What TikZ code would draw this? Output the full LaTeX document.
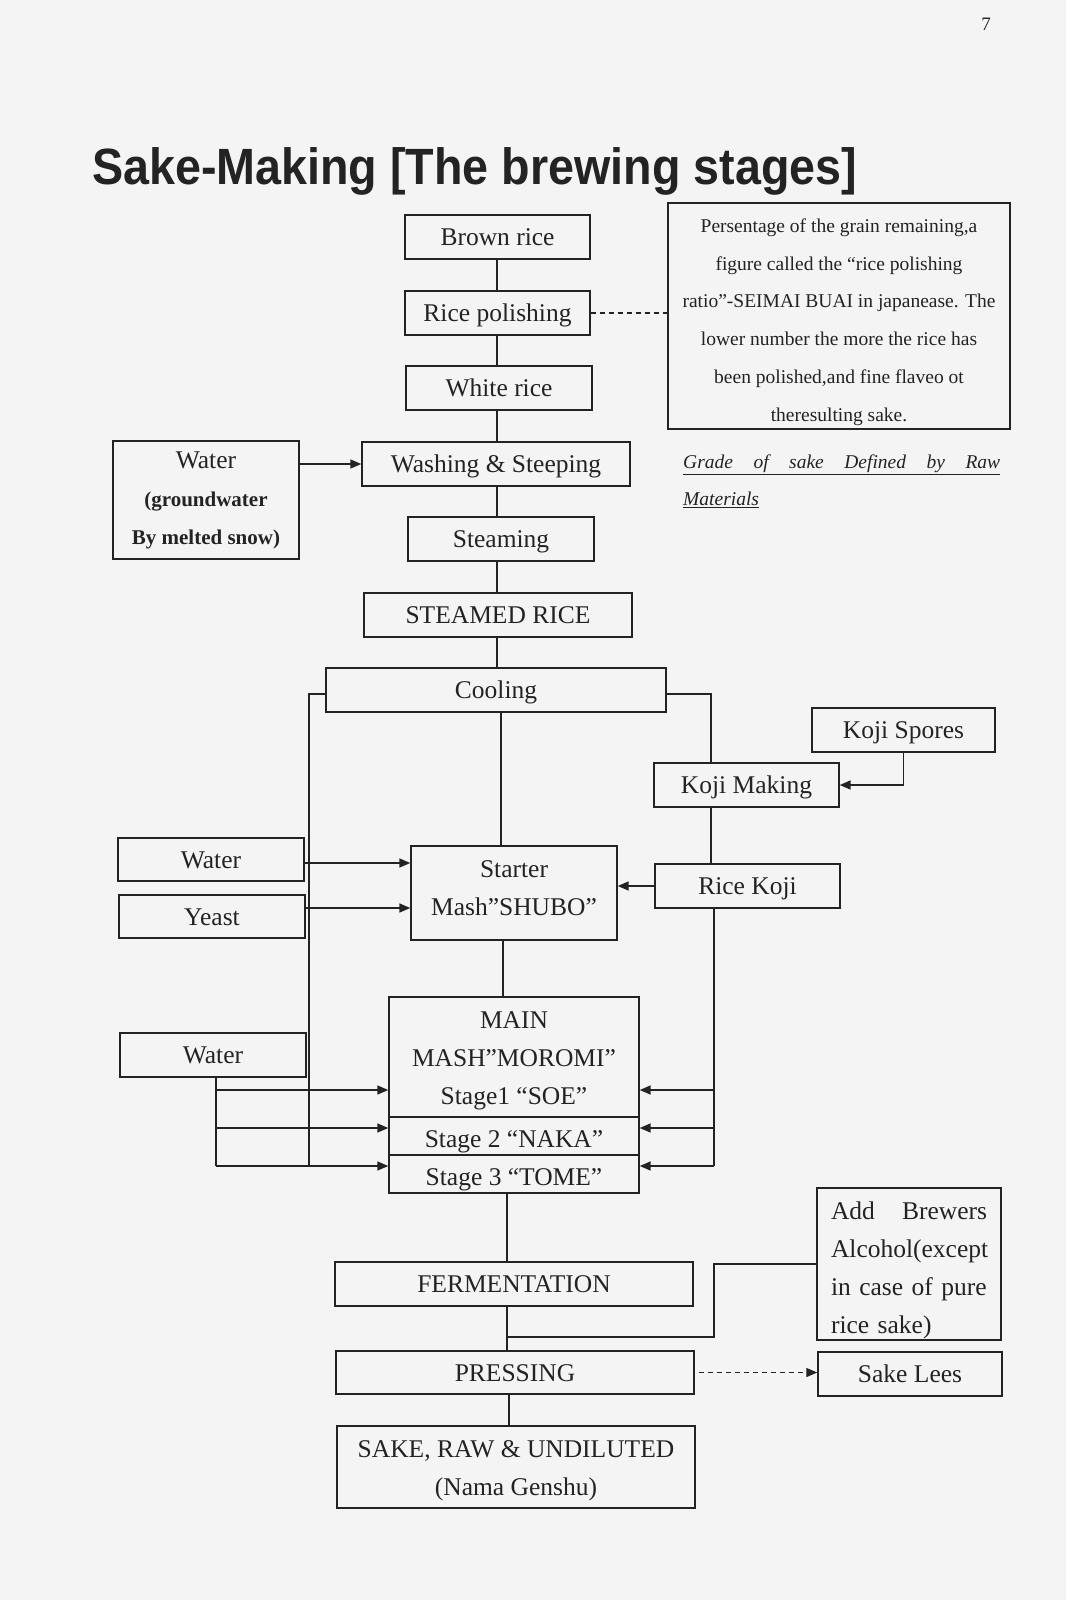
\documentclass[tikz,border=0pt]{standalone}
\usepackage{fontspec}
\usepackage{graphicx}
\setmainfont{Liberation Serif}
\newfontfamily\titlefont{Liberation Sans}
\usetikzlibrary{arrows.meta,calc}
\definecolor{ink}{RGB}{35,35,35}
\definecolor{paper}{RGB}{244,244,244}
\tikzset{
  box/.style={draw=ink, line width=1.4pt, inner sep=0pt, align=center, text=ink,
    font=\fontsize{25.5}{38}\selectfont},
  one/.style={text height=20pt, text depth=3pt},
  low/.style={text height=22pt, text depth=0pt},
  txt/.style={inner sep=0pt, align=center, text=ink, font=\fontsize{25.5}{38}\selectfont},
  conn/.style={draw=ink, line width=1.6pt},
  arr/.style={conn, -{Triangle[length=11pt,width=9pt]}},
  dsh/.style={dash pattern=on 5pt off 4pt},
}
\begin{document}
\begin{tikzpicture}[x=1pt,y=-1pt]
\fill[paper] (0,0) rectangle (1066,1600);
\useasboundingbox (0,0) rectangle (1066,1600);

% title and page number
\node[anchor=base west, inner sep=0pt, text=ink, font=\titlefont\bfseries\fontsize{51}{60}\selectfont] (title) at (92,184) {\scalebox{0.915}[1]{Sake-Making [The brewing stages]}};
\node[text=ink, font=\fontsize{19}{20}\selectfont] (pg) at (986,24) {7};

% main column
\node[box, one, minimum width=185pt, minimum height=44pt] (brown) at (497.5,237) {Brown rice};
\node[box, one, minimum width=185pt, minimum height=44pt] (polish) at (497.5,313) {Rice polishing};
\node[box, one, minimum width=186pt, minimum height=44pt] (white) at (499,388) {White rice};
\node[box, one, minimum width=268pt, minimum height=44pt] (wash) at (496,464) {Washing \& Steeping};
\node[box, one, minimum width=186pt, minimum height=44pt] (steam) at (501,539) {Steaming};
\node[box, one, minimum width=268pt, minimum height=44pt] (steamed) at (498,615) {STEAMED RICE};
\node[box, one, minimum width=340pt, minimum height=44pt] (cool) at (496,690) {Cooling};
\node[box, minimum width=206pt, minimum height=94pt] (start) at (514,893) {};
\node[txt] (startt) at (514,888) {Starter\\Mash”SHUBO”};
\node[box, minimum width=250pt, minimum height=120pt] (main) at (514,1057) {};
\node[txt] (maint) at (514,1061) {MAIN\\MASH”MOROMI”\\Stage1 “SOE”};
\node[box, low, minimum width=250pt, minimum height=38pt] (st2) at (514,1136) {Stage 2 “NAKA”};
\node[box, low, minimum width=250pt, minimum height=38pt] (st3) at (514,1174) {Stage 3 “TOME”};
\node[box, one, minimum width=358pt, minimum height=44pt] (ferm) at (514,1284) {FERMENTATION};
\node[box, one, minimum width=358pt, minimum height=43pt] (press) at (515,1372.5) {PRESSING};
\node[box, minimum width=358pt, minimum height=82pt] (sake) at (516,1467) {};
\node[txt] (saket) at (516,1471) {SAKE, RAW \& UNDILUTED\\(Nama Genshu)};

% side boxes
\node[box, minimum width=186pt, minimum height=118pt] (water1) at (206,500) {Water\\{\bfseries\fontsize{21}{38}\selectfont (groundwater}\\{\bfseries\fontsize{21}{38}\selectfont By melted snow)}};
\node[box, minimum width=342pt, minimum height=226pt] (note) at (839,316) {};
\node[txt, font=\fontsize{19.5}{37.7}\selectfont] (notet) at (839,322) {Persentage of the grain remaining,a\\figure called the “rice polishing\\ratio”-SEIMAI BUAI in japanease. The\\lower number the more the rice has\\been polished,and fine flaveo ot\\theresulting sake.};
\node[anchor=west, inner sep=0pt, align=left, text=ink, font=\itshape\fontsize{19.5}{37}\selectfont] (grade) at (683,481) {\underline{\makebox[317pt][s]{Grade of sake Defined by Raw}}\\\underline{Materials}};
\node[box, one, minimum width=183pt, minimum height=44pt] (spores) at (903.5,730) {Koji Spores};
\node[box, one, minimum width=185pt, minimum height=44pt] (kojim) at (746.5,785) {Koji Making};
\node[box, one, minimum width=185pt, minimum height=44pt] (ricek) at (747.5,886) {Rice Koji};
\node[box, one, minimum width=186pt, minimum height=43pt] (water2) at (211,859.5) {Water};
\node[box, one, minimum width=186pt, minimum height=43pt] (yeast) at (212,916.5) {Yeast};
\node[box, one, minimum width=186pt, minimum height=44pt] (water3) at (213,1055) {Water};
\node[box, minimum width=184pt, minimum height=152pt] (add) at (909,1264) {};
\node[txt, align=left, text width=156pt] (addt) at (909,1270) {\makebox[156pt][l]{Add\hfill Brewers}\\Alcohol(except\\\makebox[156pt][s]{in case of pure}\\rice sake)};
\node[box, one, minimum width=184pt, minimum height=44pt] (lees) at (910,1374) {Sake Lees};

% helper coordinates
\coordinate (s1) at (497,0);
\coordinate (s2) at (501,0);
\coordinate (s3) at (503,0);
\coordinate (s4) at (507,0);
\coordinate (s5) at (509,0);
\coordinate (L) at (309,0);
\coordinate (wl) at (216,0);
\coordinate (R1) at (711,0);
\coordinate (R2) at (714,0);
\coordinate (yc) at (0,694);
\coordinate (y1) at (0,1090);
\coordinate (y2) at (0,1128);
\coordinate (y3) at (0,1166);
\coordinate (yw) at (0,863);
\coordinate (yy) at (0,908);
\coordinate (ya) at (0,1337);

% spine
\draw[conn] (brown.south -| s1) -- (polish.north -| s1);
\draw[conn] (polish.south -| s1) -- (white.north -| s1);
\draw[conn] (white.south -| s1) -- (wash.north -| s1);
\draw[conn] (wash.south -| s1) -- (steam.north -| s1);
\draw[conn] (steam.south -| s1) -- (steamed.north -| s1);
\draw[conn] (steamed.south -| s1) -- (cool.north -| s1);
\draw[conn] (cool.south -| s2) -- (start.north -| s2);
\draw[conn] (start.south -| s3) -- (main.north -| s3);
\draw[conn] (st3.south -| s4) -- (ferm.north -| s4);
\draw[conn] (ferm.south -| s4) -- (press.north -| s4);
\draw[conn] (press.south -| s5) -- (sake.north -| s5);

% polishing note
\draw[conn, line width=1.2pt, dsh] (polish.east) -- (note.west |- polish.east);
% water to washing
\draw[arr] (water1.east |- wash.west) -- (wash.west);

% left bypass
\draw[conn] (cool.west |- yc) -- (L |- yc) -- (L |- y3);
\draw[arr] (water2.east |- yw) -- (start.west |- yw);
\draw[arr] (yeast.east |- yy) -- (start.west |- yy);
\draw[conn] (water3.south -| wl) -- (wl |- y3);
\draw[arr] (wl |- y1) -- (main.west |- y1);
\draw[arr] (wl |- y2) -- (st2.west |- y2);
\draw[arr] (wl |- y3) -- (st3.west |- y3);

% right bypass
\draw[conn] (cool.east |- yc) -- (R1 |- yc) -- (kojim.north -| R1);
\draw[conn] (kojim.south -| R1) -- (ricek.north -| R1);
\draw[arr] (spores.south) -- (spores.south |- kojim.east) -- (kojim.east);
\draw[arr] (ricek.west) -- (start.east |- ricek.west);
\draw[conn] (ricek.south -| R2) -- (R2 |- y3);
\draw[arr] (R2 |- y1) -- (main.east |- y1);
\draw[arr] (R2 |- y2) -- (st2.east |- y2);
\draw[arr] (R2 |- y3) -- (st3.east |- y3);

% brewers alcohol
\draw[conn] (add.west) -- (add.west -| R2) -- (R2 |- ya) -- (s4 |- ya);
% sake lees
\draw[arr, line width=1.2pt, dsh] ([xshift=4pt]press.east) -- (lees.west |- press.east);
\end{tikzpicture}
\end{document}
